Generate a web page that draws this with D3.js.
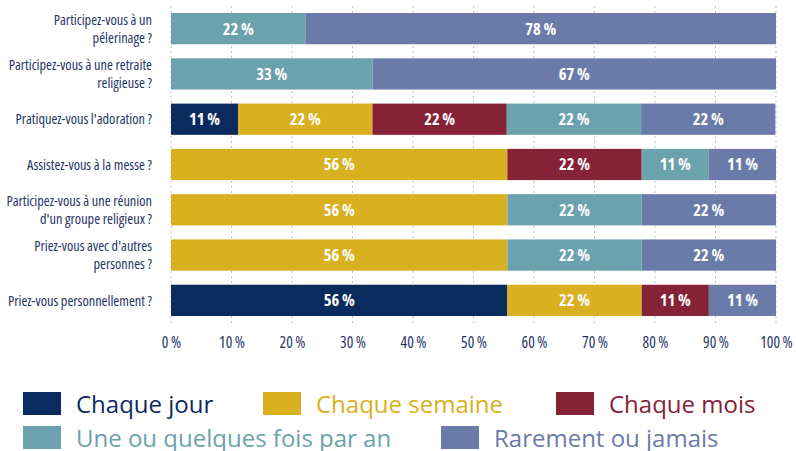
<!DOCTYPE html>
<html>
<head>
<meta charset="utf-8">
<script src="https://cdn.jsdelivr.net/npm/d3@7"></script>
<style>
  body { margin: 0; background: #fff; }
  svg { display: block; }
  text { font-family: 'Open Sans', sans-serif; font-stretch: 75%; }
</style>
</head>
<body>
<svg id="chart"></svg>
<script>
// questions, top to bottom (line breaks as in the original)
const questions = [
  ["Participez-vous à un", "pélerinage ?"],
  ["Participez-vous à une retraite", "religieuse ?"],
  ["Pratiquez-vous l'adoration ?"],
  ["Assistez-vous à la messe ?"],
  ["Participez-vous à une réunion", "d'un groupe religieux ?"],
  ["Priez-vous avec d'autres", "personnes ?"],
  ["Priez-vous personnellement ?"]
];
const categories = ["Chaque jour", "Chaque semaine", "Chaque mois", "Une ou quelques fois par an", "Rarement ou jamais"];
const chaqueJour    = [0, 0, 11.1, 0, 0, 0, 55.6];
const chaqueSemaine = [0, 0, 22.2, 55.6, 55.6, 55.6, 22.2];
const chaqueMois    = [0, 0, 22.2, 22.2, 0, 0, 11.1];
const quelquesFois  = [22.2, 33.3, 22.2, 11.1, 22.2, 22.2, 0];
const rarement      = [77.8, 66.7, 22.2, 11.1, 22.2, 22.2, 11.1];
const tickValues = [0, 10, 20, 30, 40, 50, 60, 70, 80, 90, 100];

const colors = ["#0b2a5d", "#d9b020", "#862236", "#6ba2ae", "#6b7ba9"];
const series = [chaqueJour, chaqueSemaine, chaqueMois, quelquesFois, rarement];

const width = 796, height = 451;
const svg = d3.select("#chart").attr("width", width).attr("height", height);

const x = d3.scaleLinear().domain([0, 100]).range([171, 776]);
const y = d3.scaleBand().domain(d3.range(questions.length)).range([6, 323]).paddingInner(0.31).paddingOuter(0.155);

// dashed grid
svg.append("g")
  .selectAll("line")
  .data(tickValues)
  .join("line")
  .attr("x1", d => x(d)).attr("x2", d => x(d))
  .attr("y1", 6).attr("y2", 324)
  .attr("stroke", "#b7bfd1")
  .attr("stroke-width", 1)
  .attr("stroke-dasharray", "2,3");

// x axis
const xAxis = svg.append("g")
  .attr("transform", "translate(0,320)")
  .call(d3.axisBottom(x).tickValues(tickValues).tickSize(0).tickPadding(17).tickFormat(d => d + "\u2009%"));
xAxis.select(".domain").remove();
xAxis.selectAll("text")
  .attr("fill", "#1f3566")
  .style("font-family", null)
  .style("font-size", "15.5px");

// stacked data
const rows = questions.map((q, i) => {
  let acc = 0;
  return series.map((s, k) => {
    const seg = { row: i, k: k, x0: acc, x1: acc + s[i], v: s[i] };
    acc += s[i];
    return seg;
  }).filter(d => d.v > 0);
});

const bars = svg.append("g");
bars.selectAll("rect")
  .data(rows.flat())
  .join("rect")
  .attr("x", d => x(d.x0))
  .attr("y", d => y(d.row))
  .attr("width", d => x(d.x1) - x(d.x0))
  .attr("height", y.bandwidth())
  .attr("fill", d => colors[d.k]);

bars.selectAll("text")
  .data(rows.flat())
  .join("text")
  .attr("x", d => (x(d.x0) + x(d.x1)) / 2)
  .attr("y", d => y(d.row) + y.bandwidth() / 2)
  .attr("dy", "0.36em")
  .attr("text-anchor", "middle")
  .attr("fill", "#fff")
  .style("font-weight", "bold")
  .style("font-size", "16.5px")
  .text(d => Math.round(d.v) + "\u2009%");

// question labels
const qLabels = svg.append("g");
questions.forEach((lines, i) => {
  const cy = y(i) + y.bandwidth() / 2;
  const t = qLabels.append("text")
    .attr("text-anchor", "end")
    .attr("fill", "#1f3566")
    .style("font-size", "14.3px");
  lines.forEach((ln, j) => {
    t.append("tspan")
      .attr("x", 152)
      .attr("y", cy + (j - (lines.length - 1) / 2) * 18)
      .attr("dy", "0.36em")
      .text(ln);
  });
});

// legend
const legendPos = [[23, 392], [263, 392], [556, 392], [23, 426], [441, 426]];
const legend = svg.append("g")
  .selectAll("g")
  .data(categories)
  .join("g")
  .attr("transform", (d, i) => `translate(${legendPos[i][0]},${legendPos[i][1]})`);
legend.append("rect")
  .attr("width", 38).attr("height", 23)
  .attr("fill", (d, i) => colors[i]);
legend.append("text")
  .attr("x", 53)
  .attr("y", 21)
  .attr("fill", (d, i) => colors[i])
  .style("font-stretch", "100%")
  .style("font-size", "24px")
  .text(d => d);
</script>
</body>
</html>
